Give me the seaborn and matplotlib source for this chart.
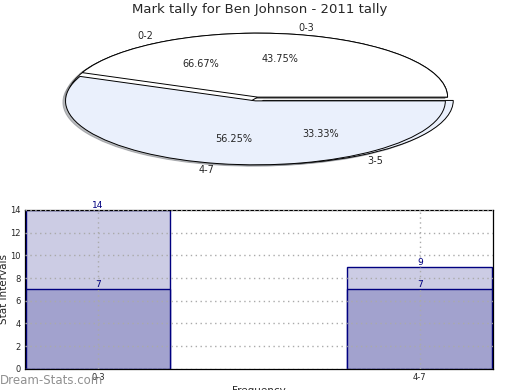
import seaborn as sns
import pandas as pd
from matplotlib import pyplot as plt

# Data
categories = ['0-3', '4-7']
series_a = [14, 9]      # lighter bars
series_b = [7, 7]       # darker bars, drawn over the lighter ones
pie_front_labels = ['0-3', '4-7']
pie_front_values = [7, 9]
pie_back_labels = ['0-2', '3-5']
pie_back_values = [14, 7]

title = 'Mark tally for Ben Johnson - 2011 tally'

sns.set_style('white')
plt.rcParams['font.family'] = ['DejaVu Sans']

fig = plt.figure(figsize=(5.2, 3.9), dpi=100)

# Pie (squashed into an ellipse, two series on top of each other)
ax_pie = fig.add_axes([0.039, 0.546, 0.913, 0.41])
pie_colors = ['white', '#eaf0fc']
wedge_style = {'edgecolor': 'black', 'linewidth': 0.7}
text_style = {'fontsize': 7}
shadow_style = {'ox': -0.01, 'oy': -0.015, 'shade': 0.5}
for vals, labs in [(pie_back_values, pie_back_labels),
                   (pie_front_values, pie_front_labels)]:
    ax_pie.pie(vals, labels=labs, colors=pie_colors,
               explode=[0, 0.06], autopct='%.2f%%', pctdistance=0.6,
               labeldistance=1.1, shadow=shadow_style, wedgeprops=wedge_style,
               textprops=text_style)
ax_pie.set_aspect('auto')
ax_pie.set_xlim(-1.25, 1.25)
ax_pie.set_ylim(-1.25, 1.25)
fig.text(0.5, 0.975, title, ha='center', va='center', fontsize=9.5)

# Bars
ax = fig.add_axes([0.048, 0.054, 0.9, 0.408])
df_a = pd.DataFrame({'cat': categories, 'val': series_a})
df_b = pd.DataFrame({'cat': categories, 'val': series_b})
sns.barplot(data=df_a, x='cat', y='val', ax=ax, color='#ccccE4', saturation=1,
            width=0.45, edgecolor='#000080', linewidth=1.0)
sns.barplot(data=df_b, x='cat', y='val', ax=ax, color='#a2a2ce', saturation=1,
            width=0.45, edgecolor='#000080', linewidth=1.0)
for i, (a, b) in enumerate(zip(series_a, series_b)):
    ax.text(i, a, str(a), ha='center', va='bottom', color='#000080', fontsize=6.5)
    ax.text(i, b, str(b), ha='center', va='bottom', color='#000080', fontsize=6.5)

ax.set_xlim(-0.227, 1.227)
ax.set_ylim(0, 14)
ax.set_yticks(range(0, 15, 2))
ax.grid(True, which='both', linestyle=(0, (1, 2.5)), linewidth=1.0, color='#aaaaaa')
ax.set_axisbelow(False)
ax.tick_params(axis='both', labelsize=6, length=2, pad=1)
ax.set_ylabel('Stat Intervals', fontsize=7.5)
ax.yaxis.set_label_coords(-0.034, 0.5)
ax.set_xlabel('Frequency', fontsize=7.5, labelpad=3)
for s in ax.spines.values():
    s.set_color('black')
    s.set_linewidth(0.9)

fig.text(0.0, 0.025, 'Dream-Stats.com', ha='left', va='center', fontsize=8.5,
         color='#909090')

plt.savefig('out.png', dpi=100)
